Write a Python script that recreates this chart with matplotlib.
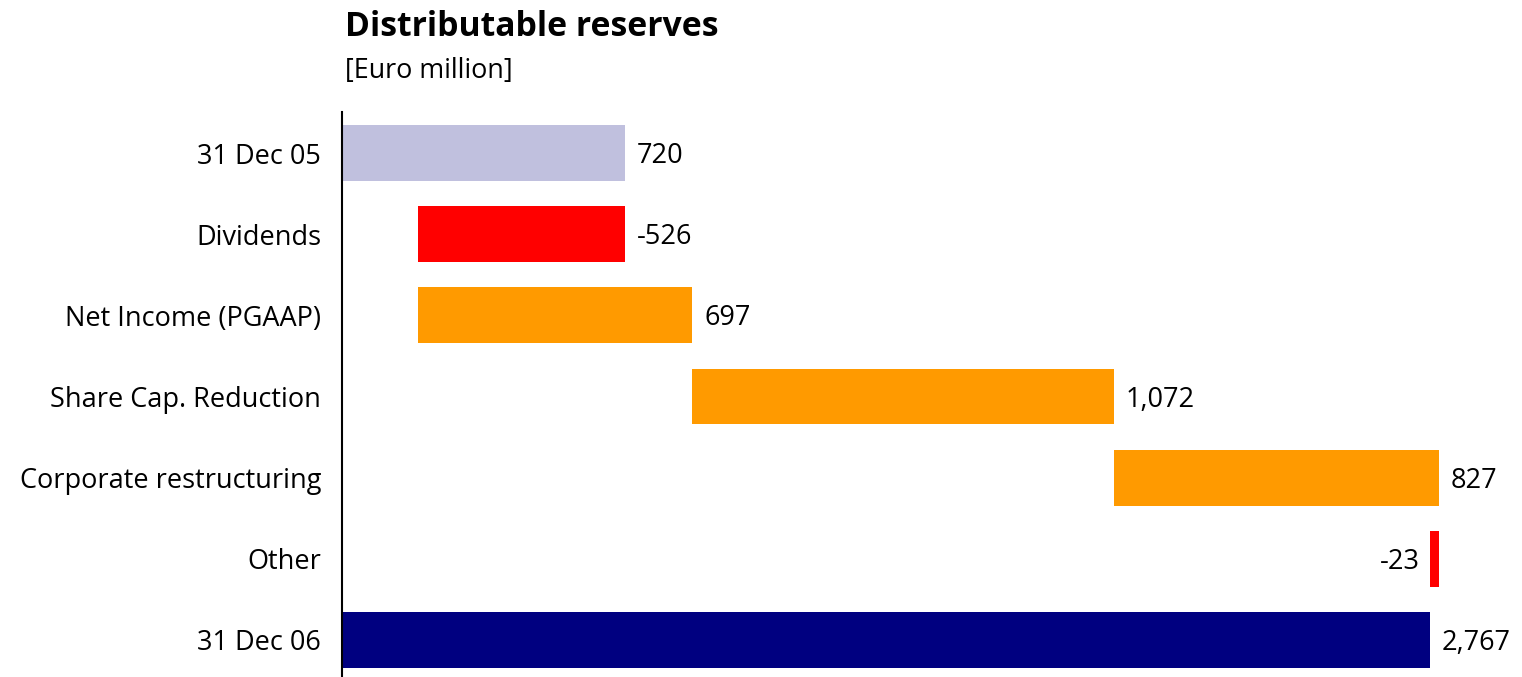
import matplotlib.pyplot as plt

categories = ['31 Dec 05', 'Dividends', 'Net Income (PGAAP)', 'Share Cap. Reduction',
              'Corporate restructuring', 'Other', '31 Dec 06']
values = [720, -526, 697, 1072, 827, -23, 2767]
kinds = ['start', 'neg', 'pos', 'pos', 'pos', 'neg', 'end']
labels = ['720', '-526', '697', '1,072', '827', '-23', '2,767']

colors = {'start': '#C0C0DE', 'neg': '#FF0000', 'pos': '#FF9A00', 'end': '#000080'}

plt.rcParams['font.family'] = ['Open Sans', 'DejaVu Sans']

fig = plt.figure(figsize=(15.22, 6.77), dpi=100)
ax = fig.add_axes([342 / 1522, 0, 1 - 342 / 1522, (677 - 112) / 677])

# waterfall: running total decides where each step bar begins
running = 0
for i, (v, k) in enumerate(zip(values, kinds)):
    if k in ('start', 'end'):
        left, width = 0, v
        running = v
    else:
        left = running if v > 0 else running + v
        width = abs(v)
        running += v
    ax.barh(i, width, left=left, height=0.69, color=colors[k])
    if categories[i] == 'Other':
        ax.annotate(labels[i], (left, i), xytext=(-10, -3), textcoords='offset pixels',
                    ha='right', va='center', fontsize=19.5)
    else:
        ax.annotate(labels[i], (left + width, i), xytext=(12, -3), textcoords='offset pixels',
                    ha='left', va='center', fontsize=19.5)

ax.set_yticks(range(len(categories)))
ax.set_yticklabels(categories, fontsize=19.5)
ax.tick_params(axis='y', length=0, pad=15)
ax.set_xticks([])
ax.set_xlim(0, 3001)
ax.set_ylim(6.46, -0.51)
for s in ['top', 'right', 'bottom']:
    ax.spines[s].set_visible(False)
ax.spines['left'].set_linewidth(1.5)

fig.text(345 / 1522, 1 - 27 / 677, 'Distributable reserves', fontsize=24.3, fontweight='bold',
         ha='left', va='center')
fig.text(345 / 1522, 1 - 71 / 677, '[Euro million]', fontsize=19.4, ha='left', va='center')

fig.savefig('out.png', dpi=100)
